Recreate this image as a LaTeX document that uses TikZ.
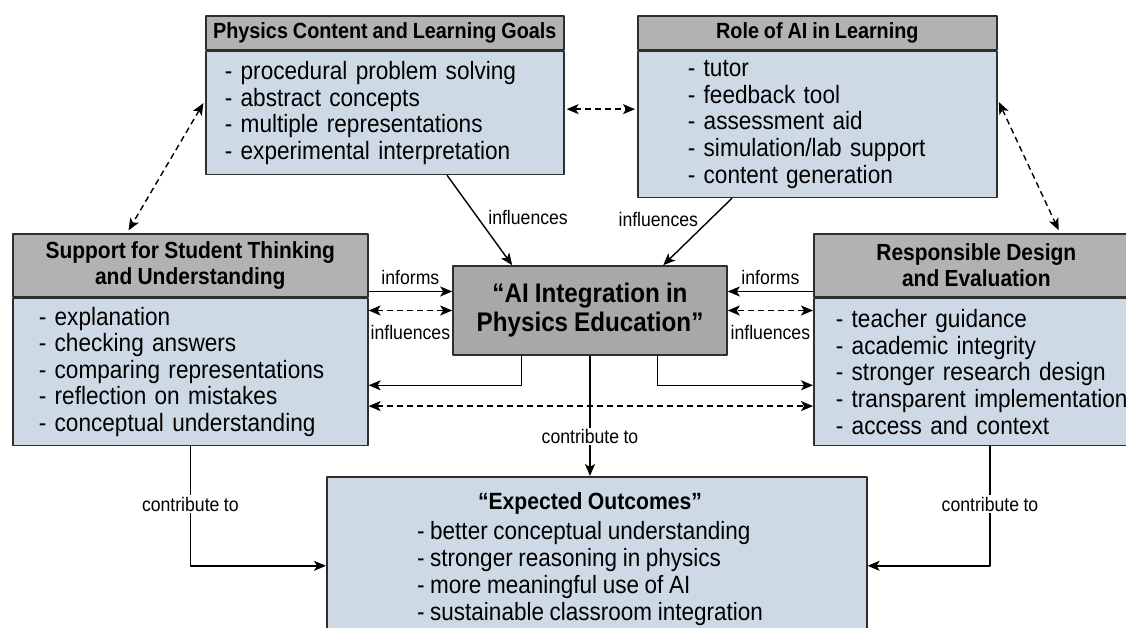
\documentclass[tikz,border=0pt]{standalone}
\usepackage{fontspec}
\setmainfont[FakeStretch=0.9, WordSpace=0.9]{Liberation Sans}
\usetikzlibrary{arrows.meta,positioning,calc}

\definecolor{headgray}{HTML}{B2B2B2}
\definecolor{hubgray}{HTML}{A8A8A8}
\definecolor{bodyblue}{HTML}{CDDAE5}
\definecolor{edgegray}{HTML}{2E2E2E}

\begin{document}
\begin{tikzpicture}[x=1pt, y=-1pt,
  box/.style={draw=edgegray, line width=1.6pt, inner sep=0pt},
  head/.style={box, fill=headgray, align=center,
    font=\bfseries\fontsize{22}{26}\selectfont},
  headtwo/.style={head, font=\bfseries\fontsize{23.3}{26}\selectfont},
  body/.style={box, fill=bodyblue, align=left,
    font=\fontsize{25.1}{26.6}\selectfont},
  lbl/.style={font=\fontsize{19.6}{22}\selectfont, inner sep=1.5pt},
  arr/.style={-{Stealth[length=12pt, width=10pt, inset=3pt]}, line width=1.4pt},
  dbl/.style={{Stealth[length=12pt, width=10pt, inset=3pt]}-{Stealth[length=12pt, width=10pt, inset=3pt]},
    line width=1.4pt, dash pattern=on 6pt off 4pt},
  line join=round]

  \useasboundingbox (0,0) rectangle (1126,627);

  % Top boxes
  \node [head, minimum width=358pt, minimum height=34pt, anchor=north west]
    (goalsHead) at (205,15) {Physics Content and Learning Goals};
  \node [body, text width=320pt, inner xsep=19pt, minimum height=123pt, below=0pt of goalsHead]
    (goals) {- procedural problem solving\\- abstract concepts\\- multiple representations\\- experimental interpretation};

  \node [head, minimum width=359pt, minimum height=34pt, anchor=north west]
    (roleHead) at (637,15) {Role of AI in Learning};
  \node [body, text width=259pt, inner xsep=50pt, minimum height=146pt, below=0pt of roleHead]
    (role) {- tutor\\- feedback tool\\- assessment aid\\- simulation/lab support\\- content generation};

  % Side boxes
  \node [headtwo, minimum width=355pt, minimum height=63pt, anchor=north west]
    (supHead) at (12,233) {Support for Student Thinking\\and Understanding};
  \node [body, text width=303pt, inner xsep=26pt, minimum height=147pt, below=0pt of supHead]
    (sup) {- explanation\\- checking answers\\- comparing representations\\- reflection on mistakes\\- conceptual understanding};

  \node [headtwo, minimum width=325pt, minimum height=63pt, anchor=north west]
    (respHead) at (813,233) {Responsible Design\\and Evaluation};
  \node [body, text width=300pt, inner xsep=22pt, minimum height=147pt, anchor=north west]
    (resp) at (respHead.south west) {- teacher guidance\\- academic integrity\\- stronger research design\\- transparent implementation\\- access and context};

  % Centre and outcomes
  \node [box, fill=hubgray, minimum width=274pt, minimum height=89pt, align=center,
    font=\bfseries\fontsize{26.9}{29}\selectfont]
    (hub) at (590,310.5) {“AI Integration in\\Physics Education”};

  \node [box, fill=bodyblue, minimum width=540pt, minimum height=178pt, anchor=north west]
    (outcomes) at (326,476) {};
  \node [font=\fontsize{25}{27}\selectfont, inner sep=0pt] (outList) at (590,559.5) {%
    \begin{tabular}{@{}l@{}}
      \multicolumn{1}{@{}c@{}}{\bfseries\fontsize{23.5}{27}\selectfont “Expected Outcomes”}\\[3pt]
      - better conceptual understanding\\
      - stronger reasoning in physics\\
      - more meaningful use of AI\\
      - sustainable classroom integration
    \end{tabular}};

  % Anchor points on the boxes
  \coordinate (gr) at ($(goals.north east)!.47!(goals.south east)$);
  \coordinate (hubW) at ($(hub.north west)!.29!(hub.south west)$);
  \coordinate (hubE) at ($(hub.north east)!.29!(hub.south east)$);
  \coordinate (hubSL) at ($(hub.south west)!.252!(hub.south east)$);
  \coordinate (hubSR) at ($(hub.south west)!.745!(hub.south east)$);
  \coordinate (supR) at ($(sup.north east)!.59!(sup.south east)$);
  \coordinate (respL) at ($(resp.north west)!.59!(resp.south west)$);

  % Influences from the top
  \draw [arr] ([xshift=242pt]goals.south west) -- ([xshift=60pt]hub.north west)
    node [lbl, right, pos=.47, xshift=8.5pt] {influences};
  \draw [arr] ([xshift=95pt]role.south west) -- ([xshift=211pt]hub.north west)
    node [lbl, left, pos=.324, xshift=-9.5pt] {influences};

  % Dashed links between the outer boxes
  \draw [dbl, shorten <=2pt, shorten >=2pt] (gr) -- (gr -| role.west);
  \draw [dbl, shorten <=3pt, shorten >=3pt]
    ($(goals.north west)!.4!(goals.south west)$) -- ([xshift=115pt]supHead.north west);
  \draw [dbl, shorten <=3pt, shorten >=3pt]
    ($(role.north east)!.33!(role.south east)$) -- ([xshift=247pt]respHead.north west);

  % Sides into the centre
  \draw [arr] (sup.east |- hubW) -- (hubW) node [lbl, midway, above=4.5pt] {informs};
  \draw [dbl] (sup.east |- hub.west) -- (hub.west) node [lbl, midway, below=12.5pt] {influences};
  \draw [arr] (resp.west |- hubE) -- (hubE) node [lbl, midway, above=4.5pt] {informs};
  \draw [dbl] (resp.west |- hub.east) -- (hub.east) node [lbl, midway, below=12.5pt] {influences};

  % Centre back out to the sides
  \draw [arr] (hubSL) |- (supR);
  \draw [arr] (hubSR) |- (respL);
  \draw [dbl] ($(sup.north east)!.73!(sup.south east)$) -- ($(resp.north west)!.73!(resp.south west)$);

  % Contributions to the outcomes
  \draw [arr] (hub.south) -- (hub.south |- outcomes.north)
    node [lbl, pos=.67, fill=white] {contribute to};
  \draw [arr] (sup.south) |- (outcomes.west)
    node [lbl, pos=.242, fill=white] {contribute to};
  \draw [arr] ([xshift=177pt]resp.south west) |- (outcomes.east)
    node [lbl, pos=.242, fill=white] {contribute to};

\end{tikzpicture}
\end{document}
